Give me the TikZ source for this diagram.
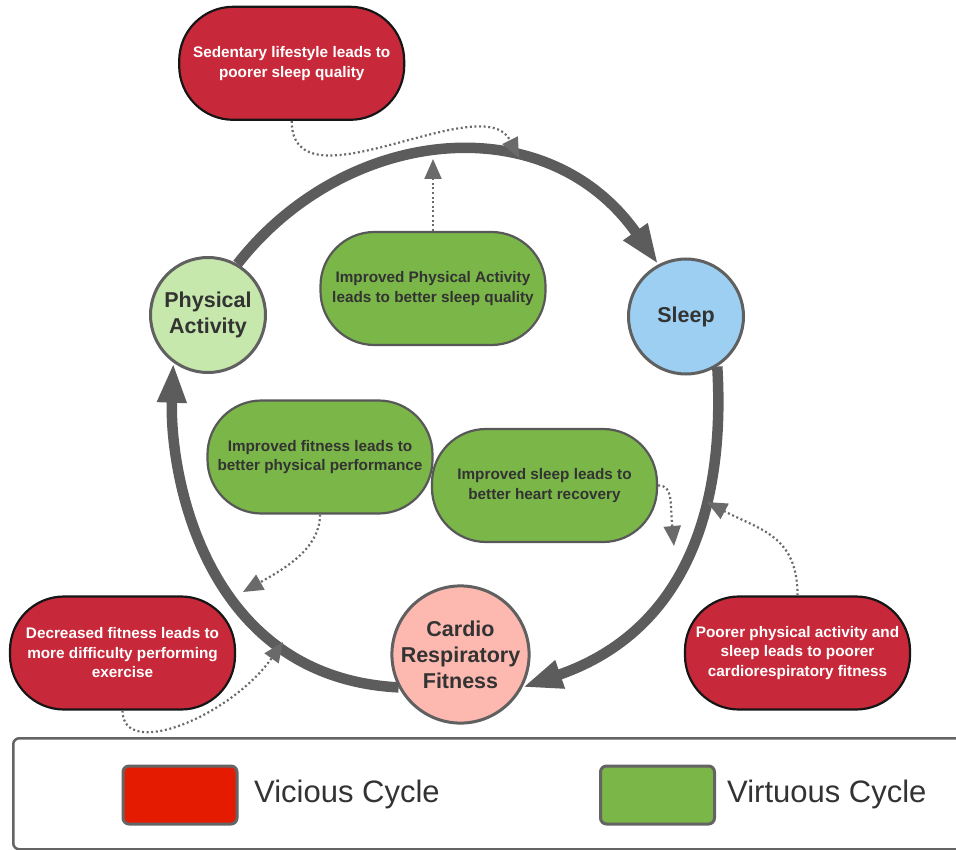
\documentclass[tikz,border=0pt]{standalone}
\usepackage{fontspec}
\setmainfont{Liberation Sans}
\usetikzlibrary{arrows.meta}

\definecolor{cyclegray}{HTML}{5C5C5C}
\definecolor{linkgray}{HTML}{6A6A6A}
\definecolor{boxred}{HTML}{C8293A}
\definecolor{boxredline}{HTML}{161616}
\definecolor{boxgreen}{HTML}{7AB648}
\definecolor{boxgreenline}{HTML}{585858}
\definecolor{inktext}{HTML}{333333}
\definecolor{hubline}{HTML}{606060}
\definecolor{hubgreen}{HTML}{C7E8AC}
\definecolor{hubblue}{HTML}{9CCFF2}
\definecolor{hubpink}{HTML}{FDB8B0}
\definecolor{keyred}{HTML}{E41B00}
\definecolor{keyline}{HTML}{646464}

\begin{document}
\begin{tikzpicture}[x=1pt,y=-1pt,
  cardbox/.style={draw, line width=2.2pt, rounded corners=54pt,
    minimum width=225pt, minimum height=113pt, inner sep=0pt, align=center,
    font=\bfseries\fontsize{15.3}{19.5}\selectfont},
  viciousbox/.style={cardbox, fill=boxred, draw=boxredline, text=white},
  virtuousbox/.style={cardbox, fill=boxgreen, draw=boxgreenline, text=inktext},
  hub/.style={circle, draw=hubline, line width=3pt, minimum size=115pt,
    inner sep=0pt, align=center, text=inktext,
    font=\bfseries\fontsize{21.5}{26}\selectfont},
  cyclearrow/.style={draw=cyclegray, line width=10.5pt,
    -{Triangle[length=40pt,width=27pt]}},
  influence/.style={draw=linkgray, line width=2.2pt, dash pattern=on 2pt off 2.6pt,
    -{Triangle[length=20pt,width=17pt,fill=linkgray]}},
  swatch/.style={draw=keyline, line width=3pt, rounded corners=6pt,
    minimum width=114pt, minimum height=58pt, inner sep=0pt},
  keytext/.style={text=inktext, font=\fontsize{31}{37}\selectfont, inner sep=0pt},
]
\useasboundingbox (0,0) rectangle (956,850);

% explanation cards
\node[viciousbox] (sed) at (291.7,63.3) {Sedentary lifestyle leads to\\poorer sleep quality};
\node[virtuousbox] (gpa) at (433,288.5) {Improved Physical Activity\\leads to better sleep quality};
\node[virtuousbox] (gfit) at (320,457) {Improved fitness leads to\\better physical performance};
\node[virtuousbox] (gslp) at (544.5,485.5) {Improved sleep leads to\\better heart recovery};
\node[viciousbox] (rdec) at (122.5,653) {Decreased fitness leads to\\more difficulty performing\\exercise};
\node[viciousbox] (rpoor) at (797.5,653) {Poorer physical activity and\\sleep leads to poorer\\cardiorespiratory fitness};

% the three factors of the cycle
\node[hub, fill=hubgreen] (pa) at (208,315) {Physical\\Activity};
\node[hub, fill=hubblue] (sleep) at (686,316.5) {Sleep};
\node[hub, fill=hubpink] (cardio) at (460.5,654.5) {Cardio\\Respiratory\\Fitness};

% main cycle
\draw[cyclearrow] (pa.60) .. controls +(107.7,-137.9) and +(-111.9,-159.7) .. (sleep.118);
\draw[cyclearrow] (sleep.-58) .. controls +(9.4,159.7) and +(151.4,-52.2) .. (cardio.-28);
\draw[cyclearrow] (cardio.208) .. controls +(-196,-10) and +(-4,108) .. (pa.234);

% influence links onto the cycle
\coordinate (ta) at (519,158);
\coordinate (tb) at (433,159);
\coordinate (tc) at (243,592);
\coordinate (td) at (674,546);
\coordinate (te) at (707,502);
\coordinate (tf) at (283,642);
\draw[influence] (sed.south) .. controls +(0,92) and +(-36,-72) .. (ta);
\draw[influence] (gpa.north) -- (tb);
\draw[influence] (gfit.south) .. controls +(0,35) and +(39,-22) .. (tc);
\draw[influence] (gslp.east) .. controls +(15,0) and +(-4,-45) .. (td);
\draw[influence] (rpoor.north) .. controls +(0,-60) and +(53,28) .. (te);
\draw[influence] (rdec.south) .. controls +(0,50) and +(-52,74) .. (tf);

% legend
\begin{scope}
  \clip (0,0) rectangle (956,850);
  \node[draw=keyline, line width=2.5pt, rounded corners=6pt, minimum width=958pt,
    minimum height=111pt, inner sep=0pt, anchor=north west] (legend) at (12,737) {};
  \node[swatch, fill=keyred] (swv) at (180,795) {};
  \node[keytext, anchor=base west] (lv) at (254,802) {Vicious Cycle};
  \node[swatch, fill=boxgreen] (swg) at (657.5,795) {};
  \node[keytext, anchor=base west] (lg) at (727,802) {Virtuous Cycle};
\end{scope}
\end{tikzpicture}
\end{document}
